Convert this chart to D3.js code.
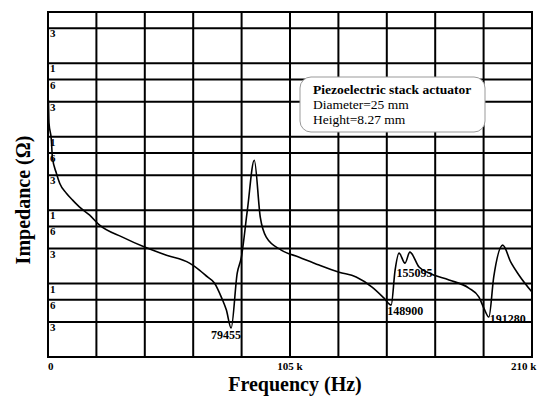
<!doctype html>
<html>
<head>
    <meta charset="utf-8">
    <title>Impedance</title>
    <script src="https://cdn.jsdelivr.net/npm/d3@7"></script>
    <style>
        body { margin: 0; background: #fff; }
        text { font-family: "Liberation Serif", "DejaVu Serif", serif; }
    </style>
</head>
<body>
    <svg width="538" height="406"></svg>
    <script>
    // values (Hz, Ohm)
    var freq = [200, 430, 1470, 1900, 3640, 5070, 7970, 10700, 13700, 18100, 22400, 32300, 41900, 51400, 61400,
        65700, 69200, 72200, 75200, 77400, 79455, 82100, 83900, 86500, 89500, 92100, 94700, 101200, 109000,
        117600, 126300, 133700, 140600, 145800, 148900, 150600, 152300, 154900, 157000, 161000, 165300,
        174000, 182600, 187000, 189100, 191280, 193400, 197300, 200800, 204300, 210000];
    var impedance = [314, 153, 89.6, 52.6, 31.9, 23.3, 17.0, 13.7, 11.0, 8.55, 6.25, 4.29, 3.14, 2.44, 1.90,
        1.53, 1.23, 1.02, 0.655, 0.436, 0.248, 1.39, 2.29, 10.0, 47.9, 8.03, 4.29, 2.86, 2.29,
        1.79, 1.43, 1.23, 0.896, 0.635, 0.510, 1.53, 2.60, 1.90, 2.68, 1.68, 1.39,
        1.12, 0.869, 0.655, 0.464, 0.350, 1.23, 3.34, 1.96, 1.31, 0.766];

    var xTicks = [0, 21000, 42000, 63000, 84000, 105000, 126000, 147000, 168000, 189000, 210000];
    var xLabelTicks = [0, 105000, 210000];
    var xTickLabels = ["0", "105 k", "210 k"];
    var yTicks = [3000, 1000, 600, 300, 100, 60, 30, 10, 6, 3, 1, 0.6, 0.3];
    var yTickLabels = ["3", "1", "6", "3", "1", "6", "3", "1", "6", "3", "1", "6", "3"];

    var markFreq = [79455, 148900, 155095, 191280];
    var markText = ["79455", "148900", "155095", "191280"];

    var boxLines = ["Piezoelectric stack actuator", "Diameter=25 mm", "Height=8.27 mm"];

    var plotLeft = 48, plotRight = 532, plotTop = 12, plotBottom = 357;

    var svg = d3.select("svg");

    var x = d3.scaleLinear().domain([0, 210000]).range([plotLeft, plotRight]);
    var y = d3.scaleLog().domain([0.1, 5000]).range([plotBottom, plotTop]);

    // grid
    svg.append("g").selectAll("line").data(xTicks).enter().append("line")
        .attr("x1", function(d) { return x(d); })
        .attr("x2", function(d) { return x(d); })
        .attr("y1", plotTop).attr("y2", plotBottom)
        .attr("stroke", "#000").attr("stroke-width", 2);

    svg.append("g").selectAll("line").data(yTicks).enter().append("line")
        .attr("x1", plotLeft).attr("x2", plotRight)
        .attr("y1", function(d) { return y(d); })
        .attr("y2", function(d) { return y(d); })
        .attr("stroke", "#000").attr("stroke-width", 2);

    svg.append("rect")
        .attr("x", plotLeft).attr("y", plotTop)
        .attr("width", plotRight - plotLeft).attr("height", plotBottom - plotTop)
        .attr("fill", "none").attr("stroke", "#000").attr("stroke-width", 2);

    // y tick digits sit inside the plot, hanging below each line
    svg.append("g").selectAll("text").data(yTicks).enter().append("text")
        .attr("x", plotLeft + 2)
        .attr("y", function(d) { return y(d) + 9; })
        .attr("font-size", 11).attr("font-weight", "bold")
        .text(function(d, i) { return yTickLabels[i]; });

    // x tick labels
    svg.append("g").selectAll("text").data(xLabelTicks).enter().append("text")
        .attr("x", function(d, i) { return i == 2 ? x(d) - 21 : x(d); })
        .attr("y", 370)
        .attr("text-anchor", function(d, i) { return i == 1 ? "middle" : "start"; })
        .attr("font-size", 11).attr("font-weight", "bold")
        .text(function(d, i) { return xTickLabels[i]; });

    // curve
    var pts = freq.map(function(f, i) { return [f, impedance[i]]; });
    var line = d3.line()
        .x(function(d) { return x(d[0]); })
        .y(function(d) { return y(d[1]); })
        .curve(d3.curveMonotoneX);

    svg.append("path")
        .attr("d", line(pts))
        .attr("fill", "none")
        .attr("stroke", "#000")
        .attr("stroke-width", 1.6);

    // frequency annotations
    var markDx = [-20, -4, -9, 1];
    var markY = [339, 315, 277, 323];
    svg.append("g").selectAll("text").data(markFreq).enter().append("text")
        .attr("x", function(d, i) { return x(d) + markDx[i]; })
        .attr("y", function(d, i) { return markY[i]; })
        .attr("font-size", 12).attr("font-weight", "bold")
        .text(function(d, i) { return markText[i]; });

    // info box
    svg.append("rect")
        .attr("x", 300).attr("y", 77)
        .attr("width", 185).attr("height", 55)
        .attr("rx", 11).attr("ry", 11)
        .attr("fill", "#fff").attr("stroke", "#999").attr("stroke-width", 1);

    svg.append("g").selectAll("text").data(boxLines).enter().append("text")
        .attr("x", 313)
        .attr("y", function(d, i) { return 94 + i * 15; })
        .attr("font-size", 13.5)
        .attr("font-weight", function(d, i) { return i == 0 ? "bold" : "normal"; })
        .text(function(d) { return d; });

    // axis titles
    svg.append("text")
        .attr("x", 295).attr("y", 391)
        .attr("text-anchor", "middle")
        .attr("font-size", 20).attr("font-weight", "bold")
        .text("Frequency (Hz)");

    svg.append("text")
        .attr("transform", "translate(30,200) rotate(-90)")
        .attr("text-anchor", "middle")
        .attr("font-size", 20).attr("font-weight", "bold")
        .text("Impedance (\u03A9)");
    </script>
</body>
</html>
